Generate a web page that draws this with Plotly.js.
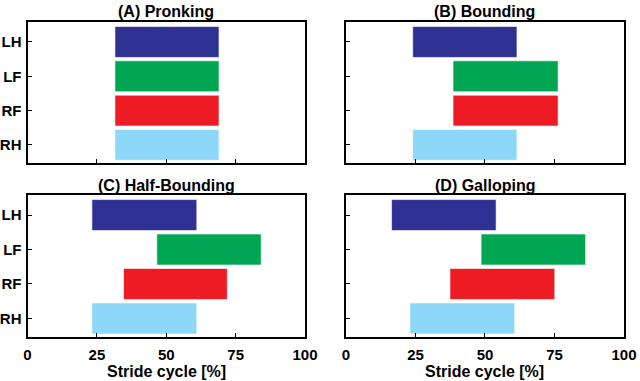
<!DOCTYPE html>
<html>
<head>
<meta charset="utf-8">
<script src="https://cdn.plot.ly/plotly-3.0.1.min.js"></script>
<style>
  body { margin: 0; background: #fff; }
  #chart { width: 640px; height: 381px; }
</style>
</head>
<body>
<div id="chart"></div>
<script>
// limbs top to bottom, stance phase start/end in % of stride
let limbs = ['LH', 'LF', 'RF', 'RH'];
let limbColors = ['#2E3192', '#00A651', '#ED1C24', '#8DD8F8'];

let pronkStart = [31.5, 31.5, 31.5, 31.5];
let pronkEnd   = [69, 69, 69, 69];
let boundStart = [24, 38.5, 38.5, 24];
let boundEnd   = [61.5, 76.3, 76.3, 61.5];
let halfStart  = [23.2, 46.6, 34.6, 23.2];
let halfEnd    = [61, 84.2, 72, 61];
let gallopStart = [16.4, 48.6, 37.4, 23];
let gallopEnd   = [54, 86.2, 75.1, 60.7];

let panelTitles = ['(A) Pronking', '(B) Bounding', '(C) Half-Bounding', '(D) Galloping'];
let xTicks = [0, 25, 50, 75, 100];

function makeTrace(start, end, xa, ya){
    let len = [];
    for(let i = 0; i < start.length; i++){
        len.push(end[i] - start[i]);
    }
    return {
        type: 'bar',
        orientation: 'h',
        y: limbs,
        x: len,
        base: start,
        width: 0.9,
        xaxis: xa,
        yaxis: ya,
        marker: {color: limbColors, line: {color: 'rgba(255,255,255,0.6)', width: 1}},
        hoverinfo: 'skip',
        showlegend: false
    };
}

let data = [
    makeTrace(pronkStart, pronkEnd, 'x', 'y'),
    makeTrace(boundStart, boundEnd, 'x2', 'y2'),
    makeTrace(halfStart, halfEnd, 'x3', 'y3'),
    makeTrace(gallopStart, gallopEnd, 'x4', 'y4')
];

let tickFont = {family: 'Liberation Sans, Arial, sans-serif', size: 15, color: '#000', weight: 'bold'};
let titleFont = {family: 'Liberation Sans, Arial, sans-serif', size: 16, color: '#000', weight: 'bold'};

function xAxis(domain, anchor, labels){
    return {
        domain: domain, anchor: anchor, range: [0, 100],
        tickvals: xTicks, showticklabels: labels,
        ticks: 'inside', ticklen: 4, tickwidth: 1, tickcolor: '#000',
        showline: true, mirror: true, linecolor: '#000', linewidth: 2,
        showgrid: false, zeroline: false, fixedrange: true,
        tickfont: tickFont, ticklabelstandoff: 3
    };
}

function yAxis(domain, anchor, labels){
    return {
        domain: domain, anchor: anchor, type: 'category',
        categoryorder: 'array', categoryarray: limbs,
        range: [3.53, -0.58], showticklabels: labels,
        ticks: 'inside', ticklen: 4, tickwidth: 1, tickcolor: '#000',
        showline: true, mirror: true, linecolor: '#000', linewidth: 2,
        showgrid: false, zeroline: false, fixedrange: true,
        tickfont: tickFont, ticklabelstandoff: 1
    };
}

let left = [0.043, 0.4766];
let right = [0.5406, 0.975];
let top_ = [0.572, 0.942];
let bottom = [0.1163, 0.488];

let annotations = [];
let titlePos = [[(left[0]+left[1])/2, 0.97], [(right[0]+right[1])/2, 0.97],
                [(left[0]+left[1])/2, 0.514], [(right[0]+right[1])/2, 0.514]];
for(let i = 0; i < 4; i++){
    annotations.push({
        text: panelTitles[i], xref: 'paper', yref: 'paper',
        x: titlePos[i][0], y: titlePos[i][1], showarrow: false,
        xanchor: 'center', yanchor: 'middle',
        font: titleFont
    });
}
for(let xc of [(left[0]+left[1])/2, (right[0]+right[1])/2]){
    annotations.push({
        text: 'Stride cycle [%]', xref: 'paper', yref: 'paper',
        x: xc, y: 0.026, showarrow: false, xanchor: 'center', yanchor: 'middle',
        font: {family: 'Liberation Sans, Arial, sans-serif', size: 16, color: '#000', weight: 'bold'}
    });
}

let layout = {
    width: 640, height: 381,
    margin: {l: 0, r: 0, t: 0, b: 0},
    paper_bgcolor: '#fff', plot_bgcolor: '#fff',
    xaxis: xAxis(left, 'y', false),
    yaxis: yAxis(top_, 'x', true),
    xaxis2: xAxis(right, 'y2', false),
    yaxis2: yAxis(top_, 'x2', false),
    xaxis3: xAxis(left, 'y3', true),
    yaxis3: yAxis(bottom, 'x3', true),
    xaxis4: xAxis(right, 'y4', true),
    yaxis4: yAxis(bottom, 'x4', false),
    annotations: annotations
};

Plotly.newPlot('chart', data, layout, {displayModeBar: false, staticPlot: true});
</script>
</body>
</html>
